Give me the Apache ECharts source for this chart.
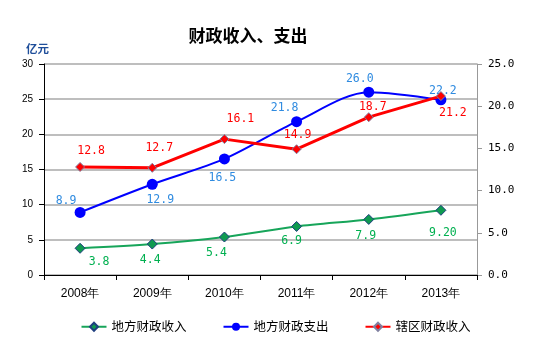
<!DOCTYPE html>
<html>
<head>
<meta charset="utf-8">
<script src="https://cdn.jsdelivr.net/npm/echarts@6/dist/echarts.min.js"></script>
<style>html,body{margin:0;padding:0;background:#fff;}#c{width:551px;height:352px;}</style>
</head>
<body>
<div id="c"></div>
<script>
// ---- data ----
const categories = ['2008年', '2009年', '2010年', '2011年', '2012年', '2013年'];
const seriesNames = ['地方财政收入', '地方财政支出', '辖区财政收入'];
const localRevenue = [3.8, 4.4, 5.4, 6.9, 7.9, 9.2];
const localRevenueLabels = ['3.8', '4.4', '5.4', '6.9', '7.9', '9.20'];
const localExpenditure = [8.9, 12.9, 16.5, 21.8, 26.0, 24.9];
const localExpenditureLabels = ['8.9', '12.9', '16.5', '21.8', '26.0', '22.2'];
const districtRevenue = [12.8, 12.7, 16.1, 14.9, 18.7, 21.2];
const districtRevenueLabels = ['12.8', '12.7', '16.1', '14.9', '18.7', '21.2'];
const leftAxisRange = [0, 30, 5];
const rightAxisRange = [0, 25, 5];

// ---- label placement (style) ----
const greenOffsets = [[19, 14], [-2, 16], [-8, 16], [-5, 15], [-3, 17], [2, 23]];
const blueOffsets = [[-14, -11], [8, 16], [-2, 19], [-12, -14], [-9, -13], [2, -9]];
const redOffsets = [[11, -16], [7, -20], [16, -20], [1, -14], [4, -10], [12, 17]];

function build(values, labels, offsets, color) {
  return values.map((v, i) => ({
    value: v,
    label: {
      show: true, position: 'inside', offset: offsets[i],
      formatter: labels[i], color: color,
      fontFamily: 'DejaVu Sans Mono', fontSize: 11.5
    }
  }));
}

const chart = echarts.init(document.getElementById('c'));
chart.setOption({
  animation: false,
  backgroundColor: '#fff',
  title: {
    text: '财政收入、支出', left: 243, top: 22, textAlign: 'center',
    textStyle: { fontFamily: 'Noto Sans CJK SC', fontSize: 17, fontWeight: 'bold', color: '#000' }
  },
  graphic: [{
    type: 'text', left: 26, top: 43,
    style: { text: '亿元', fontFamily: 'Noto Sans CJK SC', fontSize: 11.5, fontWeight: 'bold', fill: '#1F4E9A' }
  }],
  legend: {
    bottom: 14, left: 'center', itemWidth: 25, itemHeight: 10, itemGap: 36,
    textStyle: { fontFamily: 'Noto Sans CJK SC', fontSize: 12.5, color: '#000' },
    data: seriesNames
  },
  grid: { left: 44, right: 74, top: 64, bottom: 77 },
  xAxis: {
    type: 'category', data: categories, boundaryGap: true,
    axisLine: { lineStyle: { color: '#000', width: 1 } },
    axisTick: { show: true, length: 5, lineStyle: { color: '#000' } },
    axisLabel: { margin: 13, fontFamily: 'Liberation Sans', fontSize: 12, color: '#000' }
  },
  yAxis: [{
    type: 'value', min: leftAxisRange[0], max: leftAxisRange[1], interval: leftAxisRange[2],
    position: 'left',
    axisLine: { show: true, lineStyle: { color: '#000' } },
    axisTick: { show: true, length: 5, lineStyle: { color: '#000' } },
    axisLabel: { margin: 11, fontFamily: 'Liberation Sans', fontSize: 10, color: '#000' },
    splitLine: { show: true, lineStyle: { color: '#a8a8a8', width: 1.5 } }
  }, {
    type: 'value', min: rightAxisRange[0], max: rightAxisRange[1], interval: rightAxisRange[2],
    position: 'right',
    axisLine: { show: true, lineStyle: { color: '#999' } },
    axisTick: { show: true, length: 5, lineStyle: { color: '#999' } },
    axisLabel: { margin: 11, fontFamily: 'DejaVu Sans Mono', fontSize: 11, color: '#000',
      formatter: v => v.toFixed(1) },
    splitLine: { show: false }
  }],
  series: [{
    name: seriesNames[0], type: 'line', yAxisIndex: 0, smooth: 0.3,
    data: build(localRevenue, localRevenueLabels, greenOffsets, '#00B050'),
    symbol: 'diamond', symbolSize: 10,
    lineStyle: { color: '#17A55A', width: 2 },
    itemStyle: { color: '#0F9A50', borderColor: '#1F3F7F', borderWidth: 1 },
    z: 3
  }, {
    name: seriesNames[1], type: 'line', yAxisIndex: 0, smooth: 0.3,
    data: build(localExpenditure, localExpenditureLabels, blueOffsets, '#2F8BE0'),
    symbol: 'circle', symbolSize: 11,
    lineStyle: { color: '#0000FF', width: 2 },
    itemStyle: { color: '#0000FF', borderWidth: 0 },
    z: 4
  }, {
    name: seriesNames[2], type: 'line', yAxisIndex: 1, smooth: false,
    data: build(districtRevenue, districtRevenueLabels, redOffsets, '#FF0000'),
    symbol: 'diamond', symbolSize: 9,
    lineStyle: { color: '#FF0000', width: 3 },
    itemStyle: { color: '#FF0000', borderColor: '#8080A0', borderWidth: 1 },
    z: 5
  }]
});
</script>
</body>
</html>
